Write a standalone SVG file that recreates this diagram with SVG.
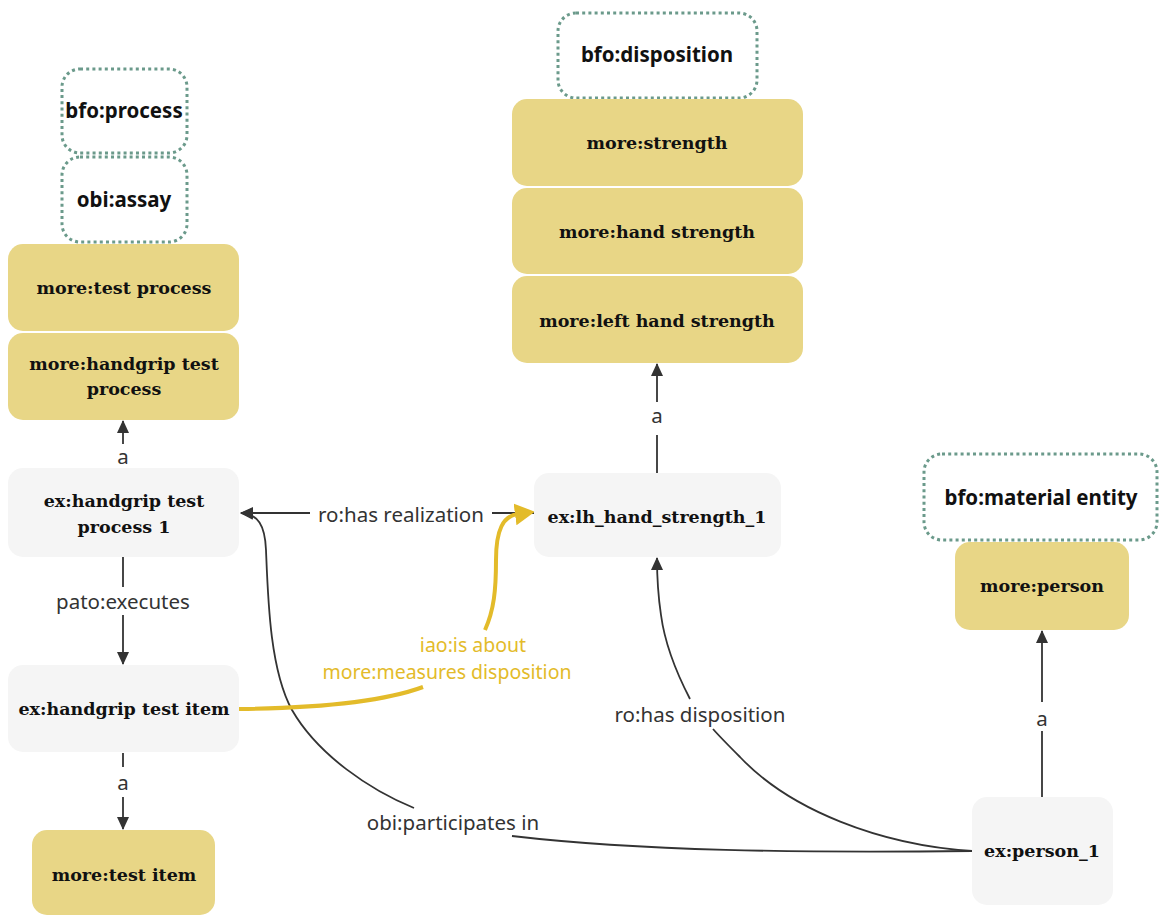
<svg xmlns="http://www.w3.org/2000/svg" width="1161" height="916" viewBox="0 0 1161 916">
<defs>
<style>
.cls{fill:#e8d686;}
.ind{fill:#f5f5f5;}
.ext{fill:#ffffff;stroke:#6b9a8b;stroke-width:3;stroke-dasharray:3 3.2;}
.tser{font-family:"DejaVu Serif","Liberation Serif",serif;font-weight:bold;font-size:17.5px;fill:#111;text-anchor:middle;}
.tsan{font-family:"Noto Sans","Liberation Sans",sans-serif;font-weight:bold;font-size:20.5px;fill:#111;text-anchor:middle;}
.edge{fill:none;stroke:#333;stroke-width:1.8;}
.yedge{fill:none;stroke:#e3bb2a;stroke-width:4;}
.lbl{font-family:"Noto Sans","Liberation Sans",sans-serif;font-size:20.5px;fill:#333;text-anchor:middle;}
.ylbl{font-family:"Noto Sans","Liberation Sans",sans-serif;font-size:19.5px;fill:#e3bb2a;text-anchor:middle;}
</style>
<marker id="arr" markerUnits="userSpaceOnUse" markerWidth="13" markerHeight="12" viewBox="0 0 13 12" refX="12" refY="6" orient="auto">
<path d="M0,0 L13,6 L0,12 z" fill="#333"/>
</marker>
<marker id="yarr" markerUnits="userSpaceOnUse" markerWidth="20" markerHeight="22" viewBox="0 0 20 22" refX="3" refY="11" orient="auto">
<path d="M0,0 L20,11 L0,22 z" fill="#e3bb2a"/>
</marker>
</defs>
<rect width="1161" height="916" fill="#fff"/>

<g id="connectors">
<path class="edge" d="M123,444 L123,421" marker-end="url(#arr)"/>
<path class="edge" d="M123,557 L123,587 M123,615 L123,664" marker-end="url(#arr)"/>
<path class="edge" d="M123,753 L123,767 M123,797 L123,829" marker-end="url(#arr)"/>
<path class="edge" d="M657,473 L657,435 M657,402 L657,364" marker-end="url(#arr)"/>
<path class="edge" d="M1042,797 L1042,731 M1042,702 L1042,631" marker-end="url(#arr)"/>
<path class="edge" d="M534,513 L492,513 M310,513 L241,513" marker-end="url(#arr)"/>
<path class="edge" d="M972,851 C800,853 640,851 512,836 M414,808 C370,790 318,755 292,710 C270,670 268,600 266,550 C265,525 258,514 241,513" marker-end="url(#arr)"/>
<path class="edge" d="M972,851 C880,845 790,810 740,757 C728,745 720,737 713,729 M690,699 C676,672 665,645 661,615 C658,595 657,575 657,558" marker-end="url(#arr)"/>
<path class="yedge" d="M239,709 C320,708 385,701 423,687 M485,630 C494,610 496,590 496,560 C496,530 503,516 518,514" marker-end="url(#yarr)"/>
<text class="lbl" x="123" y="464">a</text>
<text class="lbl" x="123" y="609">pato:executes</text>
<text class="lbl" x="123" y="790">a</text>
<text class="lbl" x="657" y="423">a</text>
<text class="lbl" x="1042" y="726">a</text>
<text class="lbl" x="401" y="522">ro:has realization</text>
<text class="lbl" x="700" y="722">ro:has disposition</text>
<text class="lbl" x="453" y="830">obi:participates in</text>
<text class="ylbl"><tspan x="473" y="652">iao:is about</tspan><tspan x="447" y="679">more:measures disposition</tspan></text>
</g>

<g id="n-bfo-process"><rect class="ext" x="62" y="69" width="125" height="84" rx="18"/><text class="tsan" x="124" y="118">bfo:process</text></g>
<g id="n-obi-assay"><rect class="ext" x="62" y="157" width="125" height="85" rx="18"/><text class="tsan" x="124" y="207">obi:assay</text></g>
<g id="n-more-test-process"><rect class="cls" x="8" y="244" width="231" height="87" rx="15"/><text class="tser" x="124" y="294">more:test process</text></g>
<g id="n-more-handgrip-test-process"><rect class="cls" x="8" y="333" width="231" height="87" rx="15"/><text class="tser" x="124" y="370">more:handgrip test</text><text class="tser" x="124" y="395">process</text></g>
<g id="n-ex-handgrip-test-process-1"><rect class="ind" x="8" y="468" width="231" height="89" rx="15"/><text class="tser" x="124" y="507">ex:handgrip test</text><text class="tser" x="124" y="533">process 1</text></g>
<g id="n-ex-handgrip-test-item"><rect class="ind" x="8" y="665" width="231" height="87" rx="15"/><text class="tser" x="124" y="715">ex:handgrip test item</text></g>
<g id="n-more-test-item"><rect class="cls" x="32" y="830" width="183" height="85" rx="15"/><text class="tser" x="124" y="881">more:test item</text></g>

<g id="n-bfo-disposition"><rect class="ext" x="558" y="13" width="199" height="85" rx="18"/><text class="tsan" x="657" y="62">bfo:disposition</text></g>
<g id="n-more-strength"><rect class="cls" x="512" y="99" width="291" height="87" rx="15"/><text class="tser" x="657" y="149">more:strength</text></g>
<g id="n-more-hand-strength"><rect class="cls" x="512" y="188" width="291" height="86" rx="15"/><text class="tser" x="657" y="238">more:hand strength</text></g>
<g id="n-more-left-hand-strength"><rect class="cls" x="512" y="276" width="291" height="87" rx="15"/><text class="tser" x="657" y="327">more:left hand strength</text></g>
<g id="n-ex-lh-hand-strength-1"><rect class="ind" x="534" y="473" width="247" height="84" rx="15"/><text class="tser" x="657" y="523">ex:lh_hand_strength_1</text></g>

<g id="n-bfo-material-entity"><rect class="ext" x="924" y="454" width="233" height="86" rx="18"/><text class="tsan" x="1041" y="505">bfo:material entity</text></g>
<g id="n-more-person"><rect class="cls" x="955" y="542" width="174" height="88" rx="15"/><text class="tser" x="1042" y="592">more:person</text></g>
<g id="n-ex-person-1"><rect class="ind" x="972" y="797" width="141" height="108" rx="15"/><text class="tser" x="1042" y="857">ex:person_1</text></g>
</svg>
